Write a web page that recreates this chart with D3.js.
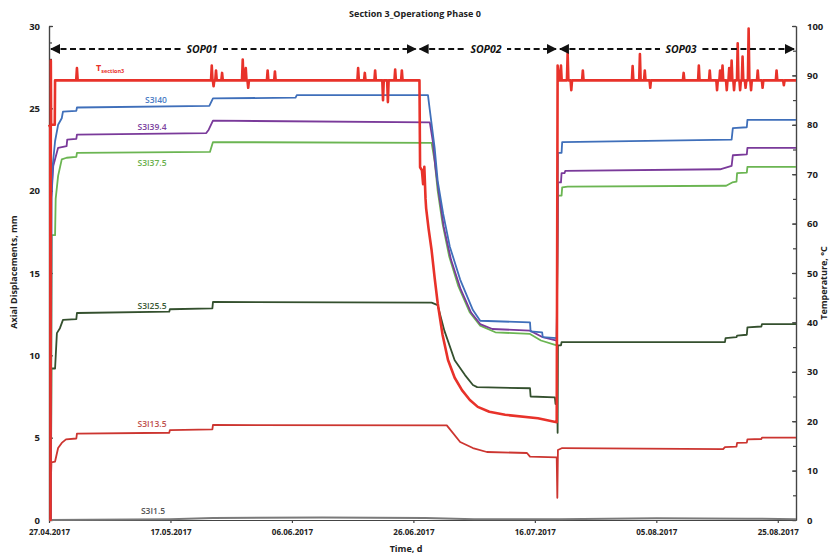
<!DOCTYPE html>
<html>
<head>
<meta charset="utf-8">
<script src="https://cdn.jsdelivr.net/npm/d3@7"></script>
<style>
  body { margin: 0; background: #fff; }
  text { font-family: "Open Sans", sans-serif; }
</style>
</head>
<body>
<svg id="chart" width="831" height="555"></svg>
<script>
// days since 27.04.2017, values in mm (left axis) or degC (right axis)
var xTickDays = [0, 20, 40, 60, 80, 100, 120];
var xTickLabels = ['27.04.2017','17.05.2017','06.06.2017','26.06.2017','16.07.2017','05.08.2017','25.08.2017'];

var sopNames = ['SOP01', 'SOP02', 'SOP03'];
var sopBounds = [0, 60.7, 83.8, 123];

var s3i40 = [[0.3,0],[0.4,19.5],[0.6,21.5],[1.0,23.0],[1.5,24.0],[2.1,24.4],[2.3,24.8],[4.5,24.85],[4.6,25.05],
  [26.4,25.15],[27.0,25.6],[40.6,25.65],[40.8,25.8],[62.4,25.8],[62.7,24.9],[63.5,22.6],[64.0,20.6],[64.9,18.6],
  [66.0,16.6],[67.7,14.6],[69.8,12.75],[71.0,12.1],[79.2,12.0],[79.3,11.45],[81.2,11.4],[81.3,11.1],[83.6,11.05],
  [83.8,22.3],[84.4,22.3],[84.5,22.95],[112.4,23.1],[112.6,23.8],[114.9,23.85],[115.0,24.3],[123,24.3]];

var s3i394 = [[0.3,0],[0.4,19.6],[0.7,21.5],[1.5,22.6],[2.9,22.7],[3.0,23.1],[4.5,23.15],[4.6,23.4],[25.9,23.5],
  [26.3,23.7],[27.0,24.25],[62.7,24.15],[63.2,23.0],[63.6,21.5],[64.2,19.8],[65.0,17.8],[66.2,15.8],[67.8,14.0],
  [69.5,12.6],[71.0,11.9],[73.0,11.6],[79.2,11.5],[81.3,11.1],[83.6,10.9],[83.8,20.5],[84.3,20.5],[84.4,21.07],
  [84.9,21.07],[85.0,21.2],[110.5,21.3],[112.4,21.5],[112.6,22.15],[114.9,22.2],[115.0,22.6],[123,22.6]];

var s3i375 = [[0.3,0],[0.45,17.3],[1.0,17.3],[1.1,19.5],[1.5,20.9],[2.1,21.9],[2.9,22.0],[4.5,22.05],[4.6,22.3],
  [26.5,22.35],[27.0,22.95],[63.0,22.9],[63.5,21.8],[64.0,20.0],[64.8,18.0],[65.9,16.0],[67.4,14.2],[69.3,12.6],
  [71.0,11.8],[73.5,11.4],[79.2,11.3],[81.0,10.9],[83.6,10.6],[83.8,19.7],[84.4,19.7],[84.5,20.2],[85.4,20.25],
  [111.5,20.3],[112.5,20.5],[113.2,20.55],[113.3,21.07],[114.9,21.1],[115.0,21.45],[123,21.45]];

var s3i255 = [[0.3,0],[0.4,9.2],[1.0,9.2],[1.3,11.35],[1.8,11.65],[2.3,12.15],[4.5,12.2],[4.6,12.57],[19.8,12.65],
  [19.9,12.8],[26.9,12.85],[27.0,13.24],[63.0,13.2],[64.0,13.05],[65.1,11.5],[66.8,9.7],[68.5,8.8],[69.8,8.2],
  [70.5,8.07],[79.2,8.0],[79.3,7.5],[83.3,7.45],[83.4,7.05],[83.7,7.0],[83.75,5.3],[83.8,10.6],[84.3,10.6],
  [84.4,10.8],[111.3,10.8],[111.4,11.05],[113.2,11.1],[113.3,11.2],[114.9,11.25],[115.0,11.7],[117.3,11.75],
  [117.4,11.9],[123,11.9]];

var s3i135 = [[0.3,0],[0.35,2.9],[0.4,3.5],[1.0,3.55],[1.5,4.37],[2.1,4.68],[2.8,4.9],[4.5,4.95],[4.6,5.25],
  [19.8,5.3],[19.9,5.46],[26.9,5.5],[27.0,5.77],[65.5,5.75],[67.7,4.74],[69.8,4.37],[72.1,4.13],[78.7,4.07],
  [79.2,3.85],[83.6,3.8],[83.7,1.35],[83.8,4.25],[84.5,4.37],[111.0,4.3],[111.3,4.43],[113.2,4.45],[113.3,4.68],
  [114.9,4.7],[115.0,4.9],[117.3,4.92],[117.4,5.0],[123,5.0]];

var s3i15 = [[0,0],[20,0.05],[27,0.12],[45,0.15],[62,0.12],[70,0.05],[84,0.05],[100,0.1],[115,0.08],[123,0.05]];

// temperature, degC
var tempBase = [[0,80],[0.2,79.5],[0.25,0],[0.3,93],[0.35,80],[0.95,80],[1.0,89],[60.7,89],[61.0,89],[61.1,71.4],
  [61.4,70.8],[61.6,68],[61.8,71.5],[62.0,65],[62.1,63.1],[62.5,59],[63.0,54.6],[63.5,49],[64.0,43.9],
  [64.8,37.5],[65.7,32.4],[66.8,28.8],[68.0,26.3],[69.3,24.3],[70.6,22.9],[72.5,21.9],[75.1,21.3],
  [80.5,20.6],[83.6,19.8],[83.75,92],[84.0,89],[123,89]];

var tempSpikes = [[4.6,91.5],[26.8,92],[27.1,87.8],[27.5,91],[28.5,90.5],[31.9,93.2],[32.4,91.5],[32.8,87.5],
  [36.0,91],[37.2,90.8],[50.9,91.5],[52.0,90.5],[53.7,91],[55.0,85.0],[55.8,84.6],[57.0,91.2],[58.1,91.0],
  [84.3,92],[85.4,94.5],[86.0,87],[87.9,91],[96.1,91.9],[97.3,94.3],[98.1,91],[99.0,87.5],[104.5,90.5],
  [107.0,92],[108.8,91],[110.0,87],[110.5,91],[110.9,92],[111.6,87],[112.0,91.5],[112.4,93],[112.8,87],
  [113.4,96.5],[113.8,87],[114.2,93.8],[114.7,87.5],[115.2,99.5],[115.6,87],[116.7,91],[117.5,87.5],
  [119.8,91],[121.0,88]];

var series = [
  {name: 'S3I1.5',  data: s3i15,  color: '#7a7a7a', label: '#555555', lx: 153, ly: 511},
  {name: 'S3I13.5', data: s3i135, color: '#cc3530', label: '#c0504d', lx: 152, ly: 424},
  {name: 'S3I25.5', data: s3i255, color: '#34502e', label: '#3c5a36', lx: 152, ly: 306},
  {name: 'S3I37.5', data: s3i375, color: '#6bb552', label: '#6ab04c', lx: 152, ly: 163},
  {name: 'S3I39.4', data: s3i394, color: '#7a3a9a', label: '#7b3fa0', lx: 152, ly: 127},
  {name: 'S3I40',   data: s3i40,  color: '#3f6fba', label: '#4a7cc4', lx: 156, ly: 100}
];

var svg = d3.select('#chart');
var x = d3.scaleLinear().domain([0, 123]).range([49, 796]);
var yL = d3.scaleLinear().domain([0, 30]).range([520, 26]);
var yR = d3.scaleLinear().domain([0, 100]).range([520, 26]);

// title and axis names
svg.append('text').attr('x', 415).attr('y', 17).attr('text-anchor', 'middle')
  .attr('font-size', 9).attr('font-weight', 'bold').attr('fill', '#222')
  .text('Section 3_Operationg Phase 0');
svg.append('text').attr('x', 406).attr('y', 552).attr('text-anchor', 'middle')
  .attr('font-size', 9).attr('font-weight', 'bold').attr('fill', '#222').text('Time, d');
svg.append('text').attr('transform', 'translate(17,272) rotate(-90)').attr('text-anchor', 'middle')
  .attr('font-size', 9).attr('font-weight', 'bold').attr('fill', '#222').text('Axial Displacements, mm');
svg.append('text').attr('transform', 'translate(827,283) rotate(-90)').attr('text-anchor', 'middle')
  .attr('font-size', 9).attr('font-weight', 'bold').attr('fill', '#222').text('Temperature, °C');

// axes
var axisColor = '#444';
function styleAxis(g, size) {
  g.selectAll('path, line').attr('stroke', axisColor).attr('stroke-width', 1.2);
  g.selectAll('text').attr('font-size', size).attr('font-weight', 'bold').attr('fill', '#222')
    .style('font-family', '"Open Sans", sans-serif');
}

svg.append('g').attr('transform', 'translate(49,0)')
  .call(d3.axisLeft(yL).tickValues(d3.range(0, 31)).tickSizeInner(-3).tickSizeOuter(0).tickFormat(''))
  .call(g => styleAxis(g, 9));
svg.append('g').attr('transform', 'translate(49,0)')
  .call(d3.axisLeft(yL).tickValues([0,5,10,15,20,25,30]).tickSizeInner(-4).tickSizeOuter(0).tickPadding(9))
  .call(g => styleAxis(g, 9.5));

svg.append('g').attr('transform', 'translate(796,0)')
  .call(d3.axisRight(yR).tickValues(d3.range(0, 101, 5)).tickSizeInner(-3).tickSizeOuter(0).tickFormat(''))
  .call(g => styleAxis(g, 9));
svg.append('g').attr('transform', 'translate(796,0)')
  .call(d3.axisRight(yR).tickValues(d3.range(0, 101, 10)).tickSizeInner(-4).tickSizeOuter(0).tickPadding(11))
  .call(g => styleAxis(g, 9.5));

svg.append('g').attr('transform', 'translate(0,520)')
  .call(d3.axisBottom(x).tickValues(xTickDays).tickFormat((d, i) => xTickLabels[i])
    .tickSize(3).tickSizeOuter(0).tickPadding(6))
  .call(g => styleAxis(g, 8));

// lines
var lineL = d3.line().x(d => x(d[0])).y(d => yL(d[1]));
var lineR = d3.line().x(d => x(d[0])).y(d => yR(d[1]));

series.forEach(s => {
  svg.append('path').attr('d', lineL(s.data)).attr('fill', 'none')
    .attr('stroke', s.color).attr('stroke-width', s.name === 'S3I1.5' ? 2 : 1.8)
    .attr('stroke-linejoin', 'round');
  svg.append('text').attr('x', s.lx).attr('y', s.ly).attr('dy', '0.35em').attr('text-anchor', 'middle')
    .attr('font-size', 8.5).attr('font-weight', 600).attr('fill', s.label).text(s.name);
});

// temperature: base curve plus the spikes
function baseAt(d) {
  var i = d3.bisector(p => p[0]).right(tempBase, d);
  var a = tempBase[i - 1], b = tempBase[i];
  return a[1] + (b[1] - a[1]) * (d - a[0]) / (b[0] - a[0]);
}
var temp = tempBase.slice();
tempSpikes.forEach(s => {
  temp.push([s[0] - 0.12, baseAt(s[0] - 0.12)], [s[0], s[1]], [s[0] + 0.12, baseAt(s[0] + 0.12)]);
});
temp.sort((a, b) => a[0] - b[0]);

svg.append('path').attr('d', lineR(temp)).attr('fill', 'none')
  .attr('stroke', '#e8322a').attr('stroke-width', 2.6).attr('stroke-linejoin', 'round');

var tLabel = svg.append('text').attr('x', 96).attr('y', 71)
  .attr('font-size', 9).attr('font-weight', 'bold').attr('fill', '#e8322a');
tLabel.append('tspan').text('T');
tLabel.append('tspan').attr('font-size', 5.5).attr('dy', 2).text('section3');

// SOP arrows
var defs = svg.append('defs');
defs.append('marker').attr('id', 'arr').attr('viewBox', '0 0 10 10').attr('refX', 9).attr('refY', 5)
  .attr('markerWidth', 5).attr('markerHeight', 5).attr('orient', 'auto-start-reverse')
  .append('path').attr('d', 'M0,0L10,5L0,10z').attr('fill', '#111');

var sopY = 49;
sopNames.forEach((name, i) => {
  var x0 = x(sopBounds[i]) + 2, x1 = x(sopBounds[i + 1]) - 2;
  svg.append('line').attr('x1', x0).attr('x2', x1).attr('y1', sopY).attr('y2', sopY)
    .attr('stroke', '#111').attr('stroke-width', 2).attr('stroke-dasharray', '6,3.5')
    .attr('marker-start', 'url(#arr)').attr('marker-end', 'url(#arr)');
});
var sopLabelX = [202, 486, 681];
sopNames.forEach((name, i) => {
  svg.append('rect').attr('x', sopLabelX[i] - 21).attr('y', sopY - 7).attr('width', 42).attr('height', 14)
    .attr('fill', '#fff');
  svg.append('text').attr('x', sopLabelX[i]).attr('y', sopY).attr('dy', '0.35em').attr('text-anchor', 'middle')
    .attr('font-size', 10.5).attr('font-weight', 'bold').attr('font-style', 'italic').attr('fill', '#111')
    .text(name);
});
</script>
</body>
</html>
